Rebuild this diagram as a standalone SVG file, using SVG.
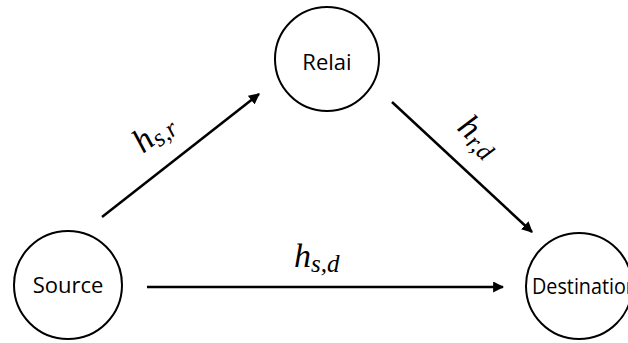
<svg xmlns="http://www.w3.org/2000/svg" width="628" height="343" viewBox="0 0 628 343">
  <style>
    .node { fill: #ffffff; stroke: #000000; stroke-width: 2; }
    .lbl { font-family: "Open Sans", "Liberation Sans", sans-serif; font-size: 22px; fill: #000000; }
    .edge { stroke: #000000; stroke-width: 2.5; fill: none; marker-end: url(#arrow); }
    .math { font-family: "Liberation Serif", "DejaVu Serif", serif; font-style: italic; font-size: 34px; fill: #000000; }
    .sub { font-size: 25px; }
  </style>
  <defs>
    <marker id="arrow" viewBox="0 0 10 10" refX="9" refY="5" markerWidth="4.4" markerHeight="4.4" orient="auto" markerUnits="strokeWidth">
      <path d="M0,0 L10,5 L0,10 z" fill="#000000"/>
    </marker>
  </defs>
  <rect width="628" height="343" fill="#ffffff"/>
  <g id="connectors">
    <line class="edge" x1="102" y1="217" x2="259" y2="94"/>
    <line class="edge" x1="392" y1="102" x2="532" y2="232"/>
    <line class="edge" x1="147" y1="287" x2="503" y2="287"/>
    <text class="math" transform="rotate(-38 143 154)" x="143" y="154">h<tspan class="sub" dy="5">s,r</tspan></text>
    <text class="math" transform="rotate(43 456 129)" x="456" y="129">h<tspan class="sub" dy="5">r,d</tspan></text>
    <text class="math" x="294" y="267">h<tspan class="sub" dy="5">s,d</tspan></text>
  </g>
  <g id="source">
    <circle class="node" cx="68" cy="285" r="54"/>
    <text class="lbl" x="68" y="293" text-anchor="middle">Source</text>
  </g>
  <g id="relai">
    <circle class="node" cx="327" cy="59" r="52"/>
    <text class="lbl" x="327" y="70" text-anchor="middle">Relai</text>
  </g>
  <g id="destination">
    <circle class="node" cx="579" cy="286" r="53"/>
    <text class="lbl" x="532" y="294" textLength="106" lengthAdjust="spacingAndGlyphs">Destination</text>
  </g>
</svg>
